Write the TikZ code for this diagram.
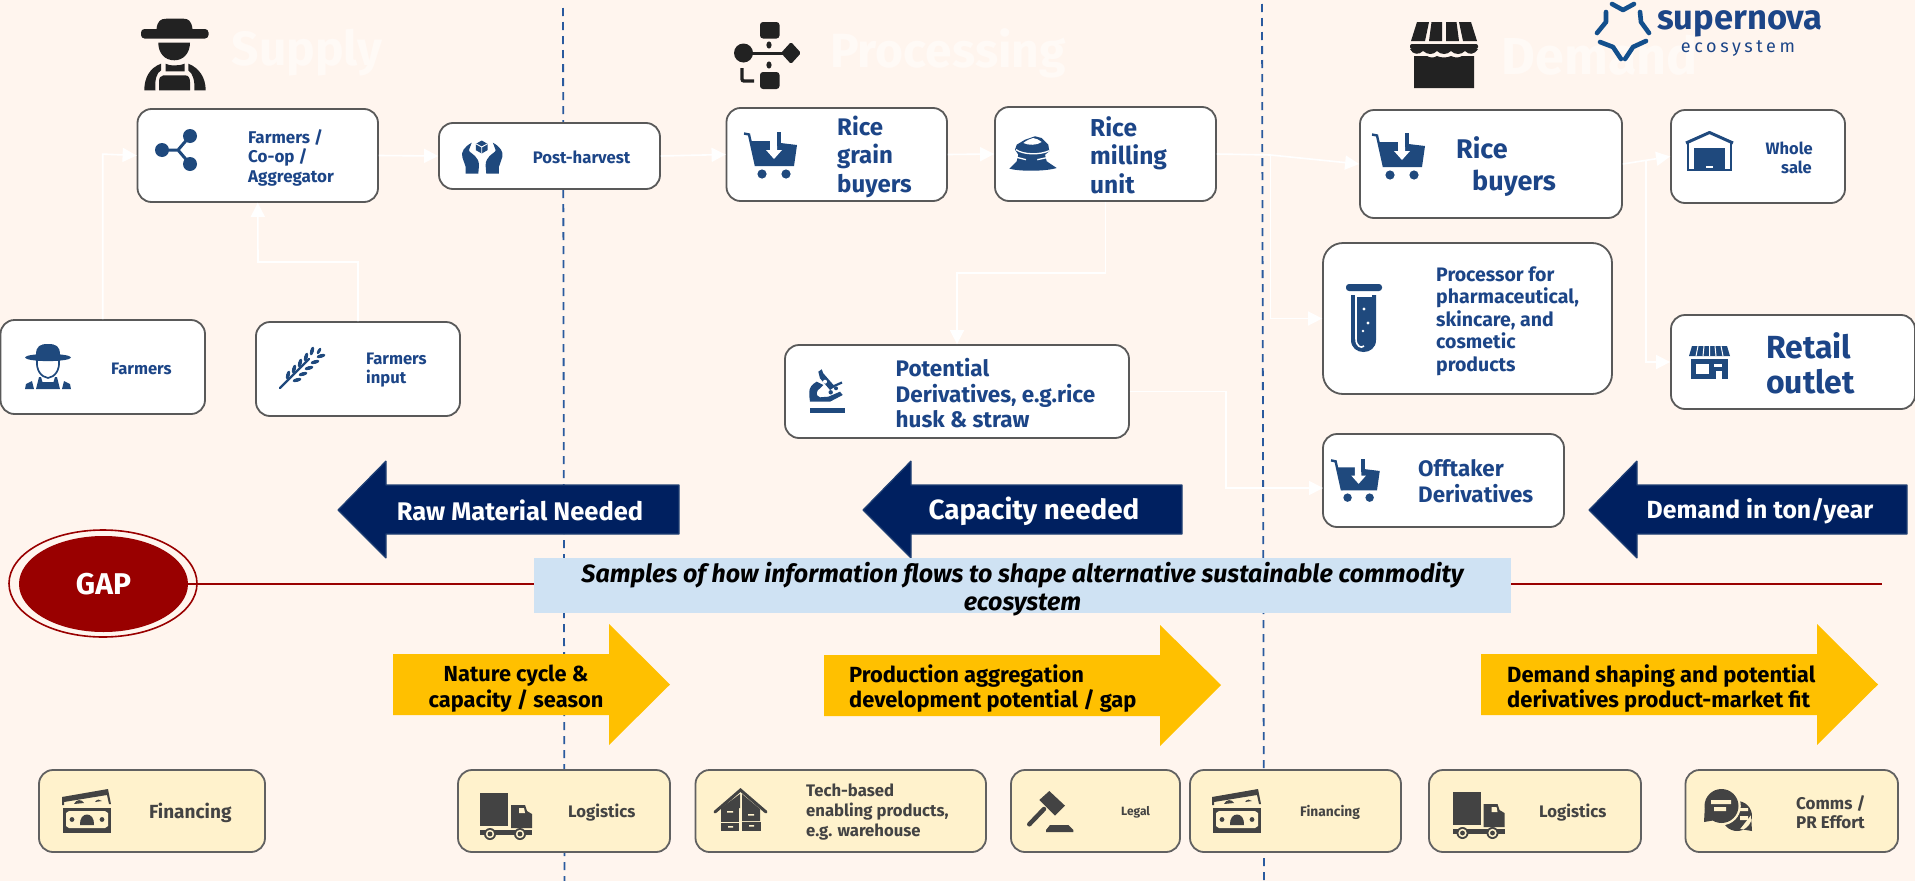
\documentclass[tikz,border=0pt]{standalone}
\usepackage{fontspec}
\setmainfont{Fira Sans}
\usetikzlibrary{arrows.meta,calc,shapes.geometric}
\definecolor{bgc}{HTML}{FFF5EE}
\definecolor{faint}{HTML}{FFFAF6}
\definecolor{tblue}{HTML}{1C4587}
\definecolor{iblue}{HTML}{1F497D}
\definecolor{dashc}{HTML}{2A5A9E}
\definecolor{navy}{HTML}{002060}
\definecolor{navyedge}{HTML}{1F3F73}
\definecolor{amber}{HTML}{FFC000}
\definecolor{cream}{HTML}{FFF2CC}
\definecolor{gtext}{HTML}{434343}
\definecolor{dred}{HTML}{990000}
\definecolor{skyb}{HTML}{CFE2F3}
\definecolor{dark}{HTML}{222222}
\definecolor{logoc}{HTML}{134F8C}
\tikzset{
  wbox/.style={draw=black!65,line width=1.8pt,fill=white,rounded corners=14pt,inner sep=0pt},
  cbox/.style={draw=black!62,line width=1.8pt,fill=cream,rounded corners=14pt,inner sep=0pt},
  link/.style={draw=white,line width=1.6pt},
  tip/.style={-{Triangle[width=14pt,length=14pt,fill=white]}},
  bluet/.style={text=tblue,font=\bfseries,anchor=west,align=left,inner sep=0pt},
  greyt/.style={text=gtext,font=\bfseries,anchor=west,align=left,inner sep=0pt},
  headt/.style={text=faint,inner sep=0pt},
  wtext/.style={text=white,inner sep=0pt},
  ktext/.style={text=black,inner sep=0pt,align=center},
  navyarrow/.style={fill=navy,draw=navyedge,line width=1.2pt,line join=bevel},
  amberarrow/.style={fill=amber},
}
\newcommand{\fs}[2]{\fontsize{#1}{#2}\selectfont}
\newcommand{\mybox}[6]{\node[#6,minimum width={#4-#2},minimum height={#5-#3}] (#1) at ({(#2+#4)/2},{(#3+#5)/2}) {};}
\newcommand{\carticon}[3]{\begin{scope}[shift={(#1,#2)},scale=#3]
 \draw[iblue,line width=2.4pt] (0,1.5)--(5,2.5)--(12,34);
 \fill[iblue] (7,9)--(33,9)--(33,0)--(36.5,0)--(36.5,11)--(53,13)--(50,34)--(12,34)--cycle;
 \fill[white] (26,8)--(33,8)--(33,18)--(38,18)--(30,27)--(22,18)--(26,18)--cycle;
 \fill[iblue] (33,0) rectangle (36.5,14);
 \fill[iblue] (18,42) circle (4.6) (42,42) circle (4.6);
\end{scope}}
\newcommand{\moneyicon}[2]{\begin{scope}[shift={(#1,#2)}]
 \fill[gtext] (0,8)--(46,0)--(49,15)--(47,15)--(45,6)--(2,13)--(2,16)--(0,16)--cycle;
 \fill[gtext] (12,15) .. controls (14,10) and (20,10) .. (22,14)--cycle (33,13) .. controls (35,10) and (38,10) .. (40,12)--cycle;
 \fill[gtext] (1,19) rectangle (49,44);
 \fill[cream] (4,24)--(7,22)--(43,22)--(46,24)--(46,37)--(43,39)--(7,39)--(4,37)--cycle;
 \fill[gtext] (18,36) .. controls (17,22) and (33,22) .. (32,36)--cycle;
 \fill[gtext] (10,30.5) circle (2.4) (40,30.5) circle (2.4);
\end{scope}}
\newcommand{\truckicon}[2]{\begin{scope}[shift={(#1,#2)}]
 \fill[gtext] (0,0) rectangle (28,33);
 \fill[gtext] (31,12)--(45,12)--(47,18)--(52,21)--(52,35)--(31,35)--cycle;
 \fill[cream] (39,15)--(44,15)--(45,20)--(39,20)--cycle;
 \fill[gtext] (0,37) rectangle (52,42);
 \fill[gtext] (10,41) circle (6) (40,41) circle (6);
 \fill[cream] (10,41) circle (4.2) (40,41) circle (4.2);
 \fill[gtext] (10,41) circle (2.4) (40,41) circle (2.4);
\end{scope}}
\begin{document}
\begin{tikzpicture}[x=1pt,y=-1pt]
\useasboundingbox (0,0) rectangle (1915,881);
\fill[bgc] (0,0) rectangle (1915,881);

% section dividers
\coordinate (d1t) at (563,8); \coordinate (d1b) at (564.5,881);
\coordinate (d2t) at (1262,4); \coordinate (d2b) at (1264,881);
\draw[dashc,line width=1.8pt,dash pattern=on 8pt off 6pt] (d1t)--(d1b);
\draw[dashc,line width=1.8pt,dash pattern=on 8pt off 6pt] (d2t)--(d2b);

% faint section headings
\node[headt,font=\bfseries\fs{48}{50}] (hsup) at (307,53) {Supply};
\node[headt,font=\bfseries\fs{48}{50}] (hpro) at (948,53) {Processing};
\node[headt,font=\bfseries\fs{52}{54}] (hdem) at (1600,55) {Demand};

% white boxes
\mybox{coop}{137.5}{109}{378}{202}{wbox}
\mybox{post}{439}{123}{660}{189}{wbox}
\mybox{farm}{0.5}{320}{205}{414}{wbox}
\mybox{input}{256}{322}{460}{416}{wbox}
\mybox{grain}{726.5}{108}{947}{201}{wbox}
\mybox{mill}{995}{107}{1216}{201}{wbox}
\mybox{deriv}{785}{345}{1129}{438}{wbox}
\mybox{buyers}{1360}{110}{1622}{218}{wbox}
\mybox{whole}{1671}{110}{1845}{203}{wbox}
\mybox{proc}{1323}{243}{1612}{394}{wbox,rounded corners=20pt}
\mybox{retail}{1671}{315}{1915}{409}{wbox}
\mybox{off}{1323}{434}{1564}{527}{wbox}

% connectors
\coordinate (b1) at (1270.6,155);
\coordinate (b2) at (1646,161);
\coordinate (offin) at (1323,488);
\draw[link,tip] (farm.north)--++(0,-165)--(coop.west);
\draw[link,tip] (input.north)|-(258,262)--(coop.south);
\draw[link,tip] (coop.east)--(post.west);
\draw[link,tip] (post.east)--(grain.west);
\draw[link,tip] (grain.east)--(mill.west);
\draw[link,tip] (mill.east)--(b1)--(buyers.west);
\draw[link,tip] (b1)|-(proc.west);
\draw[link,tip] (mill.south)|-(957,273)--(deriv.north);
\draw[link,tip] (deriv.east)-|(1226,488)--(offin);
\draw[link,tip] (buyers.east)--(whole.west);
\draw[link,tip] (b2)|-(retail.west);

% blue box texts
\node[bluet,font=\bfseries\fs{17}{19.5}] (tcoop) at (248,157.5) {Farmers /\\Co-op /\\Aggregator};
\node[bluet,font=\bfseries\fs{16.7}{19}] (tpost) at (532.6,157) {Post-harvest};
\node[bluet,font=\bfseries\fs{16.6}{19}] (tfarm) at (111,369) {Farmers};
\node[bluet,font=\bfseries\fs{16.6}{19}] (tinput) at (366,370.5) {Farmers\\input};
\node[bluet,font=\bfseries\fs{24}{28.5}] (tgrain) at (837,156.5) {Rice\\grain\\buyers};
\node[bluet,font=\bfseries\fs{24.5}{28.5}] (tmill) at (1090,155) {Rice\\milling\\unit};
\node[bluet,font=\bfseries\fs{22.5}{25.5}] (tderiv) at (895.5,393.5) {Potential\\Derivatives, e.g.rice\\husk \& straw};
\node[bluet,font=\bfseries\fs{27}{32}] (tbuy) at (1456,167) {Rice\\\hspace*{16pt}buyers};
\node[bluet,font=\bfseries\fs{16.5}{19}] (twhole) at (1765.5,157.5) {Whole\\\hspace*{15.5pt}sale};
\node[bluet,font=\bfseries\fs{19.5}{22.5}] (tproc) at (1436,321) {Processor for\\pharmaceutical,\\skincare, and\\cosmetic\\products};
\node[bluet,font=\bfseries\fs{32}{35}] (tret) at (1766,363) {Retail\\outlet};
\node[bluet,font=\bfseries\fs{22.4}{26}] (toff) at (1418,481) {Offtaker\\Derivatives};

% navy arrows
\fill[navyarrow] (338,510)--(386,461)--(386,485)--(679,485)--(679,534)--(386,534)--(386,558)--cycle;
\fill[navyarrow] (863,510)--(911,461)--(911,485)--(1182,485)--(1182,534)--(911,534)--(911,558)--cycle;
\fill[navyarrow] (1589,510)--(1637,461)--(1637,485)--(1907,485)--(1907,534)--(1637,534)--(1637,558)--cycle;
\node[wtext,font=\bfseries\fs{25.5}{28}] (traw) at (520,510) {Raw Material Needed};
\node[wtext,font=\bfseries\fs{27.8}{30}] (tcap) at (1034,511) {Capacity needed};
\node[wtext,font=\bfseries\fs{24.8}{28}] (tdem) at (1760,511) {Demand in ton/year};

% gap
\coordinate (lineend) at (1882,584);
\node[draw=dred,line width=1.6pt,ellipse,inner sep=0pt,minimum width=188pt,minimum height=107pt] (gapo) at (103,583.5) {};
\node[fill=dred,ellipse,inner sep=0pt,minimum width=169pt,minimum height=96pt,text=white,font=\bfseries\fs{30}{32}] (gap) at (103.5,584) {GAP};
\draw[dred,line width=1.8pt] (gap.east)--(lineend);
\node[fill=skyb,minimum width=977pt,minimum height=55pt,inner sep=0pt] (sample) at (1022.5,585.5) {};
\node[inner sep=0pt,text=black,align=center,font=\bfseries\itshape\fs{25}{28}] (sampletxt) at (1022.5,589) {Samples of how information flows to shape alternative sustainable commodity\\ecosystem};

% amber arrows
\fill[amberarrow] (393,654)--(609,654)--(609,624)--(670,684.5)--(609,745)--(609,715)--(393,715)--cycle;
\fill[amberarrow] (824,655)--(1160,655)--(1160,625)--(1221,685)--(1160,746)--(1160,716)--(824,716)--cycle;
\fill[amberarrow] (1481,654)--(1817,654)--(1817,624)--(1878,684.5)--(1817,745)--(1817,715)--(1481,715)--cycle;
\node[ktext,font=\bfseries\fs{21.8}{25.5}] (tnat) at (516,688.5) {Nature cycle \&\\capacity / season};
\node[ktext,align=left,anchor=west,font=\bfseries\fs{21.9}{25.5}] (tprod) at (849,688.5) {Production aggregation\\development potential / gap};
\node[ktext,align=left,anchor=west,font=\bfseries\fs{22}{25.5}] (tshape) at (1507,688.5) {Demand shaping and potential\\derivatives product-market fit};

% cream boxes
\mybox{fin1}{39}{770}{265}{852}{cbox}
\mybox{log1}{458}{770}{670}{852}{cbox}
\mybox{tech}{695.5}{770}{986}{852}{cbox}
\mybox{legal}{1011}{770}{1180}{852}{cbox}
\mybox{fin2}{1190}{770}{1401}{852}{cbox}
\mybox{log2}{1429}{770}{1641}{852}{cbox}
\mybox{comms}{1685.5}{770}{1898}{852}{cbox}
\node[greyt,font=\bfseries\fs{19}{22}] (tfin1) at (149,813) {Financing};
\node[greyt,font=\bfseries\fs{16.7}{19}] (tlog1) at (568,813) {Logistics};
\node[greyt,font=\bfseries\fs{16.7}{20}] (ttech) at (806,812) {Tech-based\\enabling products,\\e.g. warehouse};
\node[greyt,font=\bfseries\fs{12}{14}] (tlegal) at (1121,812) {Legal};
\node[greyt,font=\bfseries\fs{13.8}{16}] (tfin2) at (1300,812) {Financing};
\node[greyt,font=\bfseries\fs{16.7}{19}] (tlog2) at (1539,813) {Logistics};
\node[greyt,font=\bfseries\fs{17}{19}] (tcomms) at (1796,812.5) {Comms /\\PR Effort};

% ---- icons ----
% dark farmer
\begin{scope}[shift={(141.5,18)},dark]
 \fill (15,11) .. controls (16,3) and (19,0.7) .. (25,0.7) -- (42,0.7) .. controls (47,0.7) and (50,3) .. (51,11)--cycle;
 \fill[rounded corners=3.5pt] (-0.5,11) rectangle (67,20.5);
 \fill (16.8,24.7) -- (48.5,24.7) .. controls (48.5,35) and (42,42.3) .. (32.8,42.3) .. controls (23,42.3) and (16.8,35) .. (16.8,24.7)--cycle;
 \fill (24,45.7) .. controls (28,48) and (38,48) .. (43,45.7) -- (43,53.3)--(24,53.3)--cycle;
 \fill (19.5,45.7) .. controls (8,50) and (2.8,60) .. (2.8,72.3) -- (14,72.3) .. controls (13,62) and (15,55) .. (19.5,52.3)--cycle;
 \fill (46.8,45.7) .. controls (58,50) and (64.2,60) .. (64.2,72.3) -- (52.8,72.3) .. controls (53.5,62) and (51,55) .. (46.8,52.3)--cycle;
 \fill (17.5,72.3) -- (17.5,64) .. controls (17.5,60) and (19,57.3) .. (22,57.3) -- (43.5,57.3) .. controls (47,57.3) and (48.5,60) .. (48.5,64) -- (48.5,72.3)--cycle;
\end{scope}
% processing
\begin{scope}[shift={(734,22)}]
 \fill[dark,rounded corners=3pt] (26,0) rectangle (45.5,16.5);
 \fill[dark,rounded corners=3pt] (26,50) rectangle (45.5,67);
 \fill[dark] (9.5,31) circle (9.5);
 \fill[dark,rounded corners=1.5pt] (57,20)--(67,31)--(57,42)--(47,31)--cycle;
 \draw[dark,line width=3pt] (10,31)--(57,31);
 \fill[dark] (35,23) ellipse (2.6 and 3.6) (35,43) ellipse (2.6 and 3.6);
 \draw[dark,line width=3.4pt,rounded corners=2pt] (8,46)--(8,59)--(20,59);
\end{scope}
% shop
\begin{scope}[shift={(1410,22)}]
 \fill[dark] (7,0)--(19,0)--(15,19)--(1,19)--cycle;
 \fill[dark] (21.5,0)--(32,0)--(32,19)--(19,19)--cycle;
 \fill[dark] (36,0)--(46.5,0)--(49,19)--(36,19)--cycle;
 \fill[dark] (49,0)--(61,0)--(67,19)--(53,19)--cycle;
 \fill[dark,rounded corners=2pt] (0,22) rectangle (68,27);
 \fill[dark] (0,27) .. controls (3,33) and (9,33) .. (13,29) .. controls (18,33) and (23,33) .. (27,29) .. controls (31,33) and (37,33) .. (41,29) .. controls (45,33) and (51,33) .. (55,29) .. controls (59,33) and (64,33) .. (68,27)--cycle;
 \fill[dark] (4,34) -- (17,34) .. controls (20,36) and (24,36) .. (27,34) .. controls (31,36) and (37,36) .. (41,34) .. controls (45,36) and (49,36) .. (52,34) -- (64,34) -- (64,66) -- (4,66) --cycle;
\end{scope}
% share
\begin{scope}[iblue]
 \draw[line width=3pt] (162,150)--(178,150)--(190,136) (178,150)--(190,164);
 \fill (162,150) circle (7) (190,136) circle (7) (190,164) circle (7);
\end{scope}
% hands
\begin{scope}[shift={(460,139)},iblue]
 \fill (11.7,3.7) .. controls (4,8) and (1,13) .. (2.3,18) -- (5.7,28) -- (5.7,34.7) -- (18.3,34.7) -- (19,26.3) .. controls (19,22) and (17,19) .. (15,17) -- (9.5,12.5) -- (9,11) --cycle;
 \fill (32.9,3.7) .. controls (40.6,8) and (43.6,13) .. (42.3,18) -- (38.9,28) -- (38.9,34.7) -- (26.3,34.7) -- (25.6,26.3) .. controls (25.6,22) and (27.6,19) .. (29.6,17) -- (35.1,12.5) -- (35.6,11) --cycle;
 \fill (21.7,1.5)--(27.5,4.8)--(27.5,11.2)--(21.7,14.5)--(15.9,11.2)--(15.9,4.8)--cycle;
 \draw[white,line width=.9pt] (15.9,4.8)--(21.7,8)--(27.5,4.8) (21.7,8)--(21.7,14.5);
\end{scope}
% blue farmer
\begin{scope}[shift={(25,344)},iblue]
 \fill (11,11) .. controls (11,2) and (15,0) .. (23,0) .. controls (31,0) and (35,2) .. (35,11)--cycle;
 \fill (23,13.5) ellipse (23 and 3.6);
 \draw[line width=1.7pt] (12,16) .. controls (11,26) and (16,33) .. (23,34) .. controls (30,33) and (35,26) .. (34,16);
 \fill (14,33)--(16,33)--(17.5,38)--(28.5,38)--(30,33)--(32,33)--(35,45)--(11,45)--cycle;
 \fill (0,45)--(1,40)--(7,37)--(9,45)--cycle (46,45)--(45,40)--(39,37)--(37,45)--cycle;
\end{scope}
% wheat
\begin{scope}[shift={(279,348)},iblue]
 \draw[line width=2.2pt,line cap=round] (1,40)--(30,11);
 \foreach \s in {0,1,2,3,4}{
  \fill[shift={(9+6*\s,27-6*\s)},rotate=75] (0,0) ellipse (4.5 and 1.9);
  \fill[shift={(18+6*\s,32-6*\s)},rotate=15] (0,0) ellipse (4.5 and 1.9);
 }
 \fill[shift={(40,3)},rotate=60] (0,0) ellipse (3.5 and 1.6);
\end{scope}
% carts
\carticon{744}{132}{1}
\carticon{1372}{133}{1}
\carticon{1331}{459}{0.92}
% sack
\begin{scope}[shift={(1010,136)}]
 \fill[iblue] (-0.7,32.7)--(6.7,25.3)--(8.3,18.7)--(5,13.7)--(6.7,8.7)--(15,3.7)--(25,0.3)--(31.7,2)--(38.3,8.7)--(39.3,15.3)--(35,18.7)--(36.7,25.3)--(46.7,32) .. controls (35,35.5) and (10,35.5) .. (-0.7,32.7)--cycle;
 \fill[white] (13.3,7) .. controls (17,4) and (20,3) .. (23,2) .. controls (26,2) and (29,4) .. (31.7,6) .. controls (27,9.5) and (18,9.5) .. (13.3,7)--cycle;
 \draw[white,line width=1.3pt] (6,13.7) .. controls (14,19) and (30,19) .. (39.3,14.7);
 \draw[white,line width=1.3pt] (6.7,21.3) -- (16,23.7) (27.3,23.7) -- (38.3,21.3);
\end{scope}
% microscope
\begin{scope}[shift={(809,369)},iblue]
 \fill (1,39.3) rectangle (36,44);
 \fill (9.3,2.7)--(12.7,0.3)--(14.3,4.3)--(26,17.7)--(21,21)--(11,9.3)--cycle;
 \fill (7.7,12.7) .. controls (3,15) and (0.3,19) .. (0.3,22.7) .. controls (0.3,27) and (0.5,30) .. (1,32.7)--(21,32.7)--(33.7,26)--(31,22.7)--(19.3,27.7) -- (11,28.3) .. controls (8.5,27.5) and (7.7,26) .. (7.7,24.3) .. controls (8,22) and (9,20.5) .. (11,19.3)--(14.3,16)--cycle;
 \fill[white] (16,12.7) circle (2);
 \draw[line width=2.2pt] (24,17.5)--(33,13.5);
 \fill (21.7,23.3) circle (2.2) (27,19.3) circle (2);
\end{scope}
% warehouse
\begin{scope}[shift={(1685,131)},iblue]
 \draw[line width=3pt,line join=round] (1,12)--(24.5,1.5)--(48,12);
 \draw[line width=2.6pt] (3,12)--(3,39)--(46,39)--(46,12);
 \fill (9,17) rectangle (40,39);
 \fill[white] (21,35) rectangle (28,37);
\end{scope}
% test tube
\begin{scope}[shift={(1346,284)},iblue]
 \fill[rounded corners=3pt] (0,0) rectangle (36,7);
 \fill (5,11) -- (30,11) -- (30,56) .. controls (30,72) and (5,72) .. (5,56) --cycle;
 \fill[white] (9,11) -- (26,11) -- (26,13) -- (9,13) --cycle;
 \draw[white,line width=1.6pt] (10,11)--(10,55) .. controls (10,62) and (15,65) .. (18,62);
 \fill[white] (18,25) circle (1.7) (22,39) circle (1.7) (17,47) circle (1.3);
\end{scope}
% retail
\begin{scope}[shift={(1689,346)},iblue]
 \fill (3,0)--(38,0)--(41,10)--(0,10)--cycle;
 \draw[white,line width=1pt] (9,0)--(7,10) (15,0)--(14,10) (20.5,0)--(20.5,10) (26,0)--(27,10) (32,0)--(34,10);
 \fill (2,13) rectangle (39,33);
 \fill[white] (7,18) rectangle (20,28);
 \fill[white] (25,18) rectangle (33,21);
 \fill[white] (27,25) rectangle (33,33);
\end{scope}
\moneyicon{62}{789}
\moneyicon{1212}{789}
\truckicon{480}{793}
\truckicon{1452.5}{792}
% house with boxes
\begin{scope}[shift={(714,788)}]
 \draw[gtext,line width=3pt,line cap=round] (1,24)--(26.5,2)--(52,24);
 \fill[gtext] (7,20)--(26,6)--(26,20)--cycle;
 \fill[gtext] (28,6)--(46,21)--(46,33)--(28,33)--cycle;
 \fill[gtext] (7,20) rectangle (25,34);
 \fill[gtext] (7,35) rectangle (25,43);
 \fill[gtext] (28,34) rectangle (47,43);
 \fill[cream] (14,38) rectangle (19,39.5) (35,37) rectangle (40,38.5) (34,26) rectangle (40,27.5) (13,23) rectangle (19,24.5);
\end{scope}
% gavel
\begin{scope}[shift={(1026,791)},gtext]
 \fill (13.3,9)--(23.3,0)--(39,14.7)--(29,24.7)--cycle;
 \draw[line width=4.5pt,line cap=round] (18,18)--(3.3,33.3);
 \fill (20,41)--(20,39)--(24,34)--(42.3,34)--(47.3,39)--(47.3,41)--cycle;
\end{scope}
% chat
\begin{scope}[shift={(1704,789)}]
 \fill[gtext] (33,27) circle (15) (48,42)--(47,26)--(36,40)--cycle;
 \fill[cream] (17.5,17) circle (19.3);
 \fill[gtext] (17.5,17) circle (17) (0,33)--(1,15)--(12,31)--cycle;
 \fill[cream] (7,11) rectangle (27,15) (10,18) rectangle (22,22);
 \fill[cream] (36,19) rectangle (44,22) (36,27) rectangle (44,31);
\end{scope}
% logo
\begin{scope}[logoc,line width=4.6pt,line cap=round,line join=round]
 \draw (1612,4)--(1623,10)--(1634,4);
 \draw (1640,12)--(1641,22)--(1649,33);
 \draw (1646,41)--(1633,47)--(1625,59);
 \draw (1621,59)--(1613,47)--(1600,42);
 \draw (1597,33)--(1606,22)--(1606,12);
\end{scope}
\node[inner sep=0pt,text=tblue,font=\bfseries\fs{34.5}{36}] (lsuper) at (1740,24) {supernova};
\node[inner sep=0pt,text=tblue,font=\addfontfeature{LetterSpace=20}\fs{18}{20}] (leco) at (1738,49) {ecosystem};
\end{tikzpicture}
\end{document}
